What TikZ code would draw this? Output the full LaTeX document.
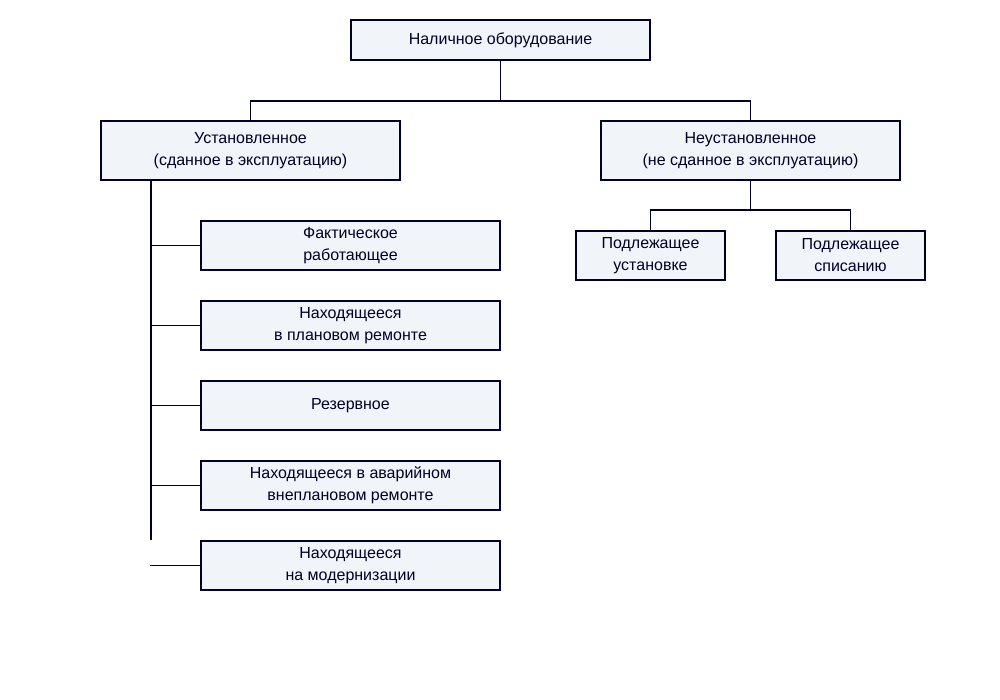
\documentclass[tikz,border=0pt]{standalone}
\usepackage{fontspec}
\setmainfont{Liberation Sans}
\begin{document}
\begin{tikzpicture}[x=1pt,y=-1pt,
 box/.style={draw=black!85!blue,line width=1.6pt,fill={rgb,255:red,241;green,244;blue,249},align=center,inner sep=0pt,font=\fontsize{16}{22}\selectfont,text=black!85!blue},
 ln/.style={draw=black!85!blue,line width=1.6pt}]
\useasboundingbox (0,0) rectangle (1000,700);
\node[box,minimum width=299,minimum height=40] (top) at (500.5,40) {Наличное оборудование};
\node[box,minimum width=299,minimum height=59] (inst) at (250.5,150.5) {Установленное\\(сданное в эксплуатацию)};
\node[box,minimum width=299,minimum height=59] (ninst) at (750.5,150.5) {Неустановленное\\(не сданное в эксплуатацию)};
\node[box,minimum width=299,minimum height=49] (c1) at (350.5,245.5) {Фактическое\\работающее};
\node[box,minimum width=299,minimum height=49] (c2) at (350.5,325.5) {Находящееся\\в плановом ремонте};
\node[box,minimum width=299,minimum height=49] (c3) at (350.5,405.5) {Резервное};
\node[box,minimum width=299,minimum height=49] (c4) at (350.5,485.5) {Находящееся в аварийном\\внеплановом ремонте};
\node[box,minimum width=299,minimum height=49] (c5) at (350.5,565.5) {Находящееся\\на модернизации};
\node[box,minimum width=149,minimum height=49] (r1) at (650.5,255.5) {Подлежащее\\установке};
\node[box,minimum width=149,minimum height=49] (r2) at (850.5,255.5) {Подлежащее\\списанию};
\coordinate (jt) at (500.5,101);
\coordinate (jr) at (750.5,210);
\coordinate (vl) at (151,540);
\coordinate (e5) at (150,565.5);
\draw[ln] (top.south) -- (jt);
\draw[ln] (jt) -| (inst.north);
\draw[ln] (jt) -| (ninst.north);
\draw[ln] (inst.south -| 151,0) -- (vl);
\foreach \c in {c1,c2,c3,c4}{\draw[ln] (\c.west -| 151,0) -- (\c.west);}
\draw[ln] (e5) -- (c5.west);
\draw[ln] (ninst.south) -- (jr);
\draw[ln] (jr) -| (r1.north);
\draw[ln] (jr) -| (r2.north);
\end{tikzpicture}
\end{document}
